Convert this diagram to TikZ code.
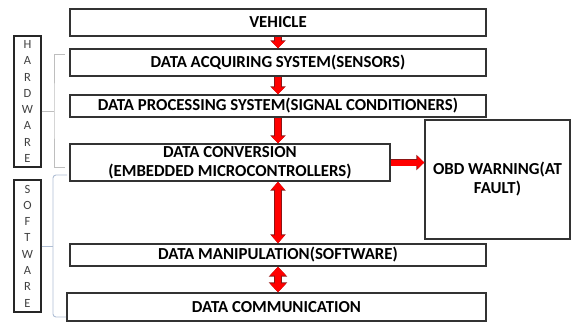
\documentclass[tikz,border=0pt]{standalone}
\usepackage{fontspec}
\setmainfont{Carlito}
\usepackage{tikz}
\usepackage{xcolor}
\usetikzlibrary{arrows.meta,calc}

\definecolor{darkred}{RGB}{140,20,20}
\definecolor{hwgray}{RGB}{190,190,190}
\definecolor{swblue}{RGB}{175,190,212}

\tikzset{
  block/.style={draw=black!80, line width=1.4pt, rectangle, inner sep=0pt,
    align=center, font=\bfseries\fontsize{16.8}{19}\selectfont},
  sidebox/.style={draw=black!85, line width=1.2pt, rectangle, inner sep=0pt,
    minimum width=27pt, align=center, text=black!75,
    font=\fontsize{12.5}{16.3}\selectfont},
  redarr/.style={red, line width=6pt, -{Triangle[length=7pt,width=13pt]},
    preaction={draw=darkred, line width=7.4pt, -{Triangle[length=8pt,width=15pt]}}},
  redboth/.style={red, line width=6pt, {Triangle[length=8pt,width=13pt]}-{Triangle[length=8pt,width=13pt]},
    preaction={draw=darkred, line width=7.4pt, {Triangle[length=9pt,width=15pt]}-{Triangle[length=9pt,width=15pt]}}},
  redfat/.style={red, line width=6pt, {Triangle[length=9pt,width=16pt]}-{Triangle[length=9pt,width=16pt]},
    preaction={draw=darkred, line width=7.4pt, {Triangle[length=10pt,width=18pt]}-{Triangle[length=10pt,width=18pt]}}},
  hwbrk/.style={draw=hwgray, line width=0.9pt},
  swbrk/.style={draw=swblue, line width=0.9pt, rounded corners=3pt}
}

\begin{document}
\begin{tikzpicture}[x=1pt,y=-1pt]
			\useasboundingbox (0,0) rectangle (573,322);
			
			% Fixed coordinates
			\node (veh) at (278,22.5) [block, minimum width=416pt, minimum height=27pt] {VEHICLE};
			\node (acq) at (278,62.5) [block, minimum width=416pt, minimum height=27pt] {DATA ACQUIRING SYSTEM(SENSORS)};
			\node (proc) at (278,106) [block, minimum width=416pt, minimum height=22pt] {DATA PROCESSING SYSTEM(SIGNAL CONDITIONERS)};
			\node (conv) at (230,162.5) [block, minimum width=320pt, minimum height=37pt] {DATA CONVERSION\\(EMBEDDED MICROCONTROLLERS)};
			\node (obd) at (497.5,179.5) [block, minimum width=145pt, minimum height=119pt] {OBD WARNING(AT\\FAULT)};
			\node (manip) at (278,255) [block, minimum width=416pt, minimum height=22pt] {DATA MANIPULATION(SOFTWARE)};
			\node (comm) at (276.5,307) [block, minimum width=419pt, minimum height=28pt] {DATA COMMUNICATION};
			
			% Side labels
			\node (hw) at (27.5,101.5) [sidebox, minimum height=131pt] {H\\A\\R\\D\\W\\A\\R\\E};
			\node (sw) at (27.5,246) [sidebox, minimum height=132pt] {S\\O\\F\\T\\W\\A\\R\\E};
			
			% Red arrows between the blocks
			\draw[redarr] (veh.south) -- (acq.north);
			\draw[redarr] (acq.south) -- (proc.north);
			\draw[redarr] (proc.south) -- (proc.south |- conv.north);
			\draw[redboth] (manip.north |- conv.south) -- (manip.north);
			\draw[redfat] (manip.south) -- (comm.north -| manip.south);
			\draw[redarr] (conv.east) -- (obd.west |- conv.east);
			
			% Brackets
			\coordinate (hwtop) at (65,54);
			\coordinate (hwbot) at (65,167);
			\coordinate (hwmid) at (54,111);
			\draw[hwbrk] (hwtop) -| (hwmid) |- (hwbot);
			\draw[hwbrk] (hw.east |- hwmid) -- (hwmid);
			
			\coordinate (swtop) at (67,175);
			\coordinate (swbot) at (66,317);
			\coordinate (swmid) at (53,246);
			\draw[swbrk] (swtop) -| (swmid) |- (swbot);
			\draw[swbrk] (sw.east |- swmid) -- (swmid);
		\end{tikzpicture}
\end{document}
